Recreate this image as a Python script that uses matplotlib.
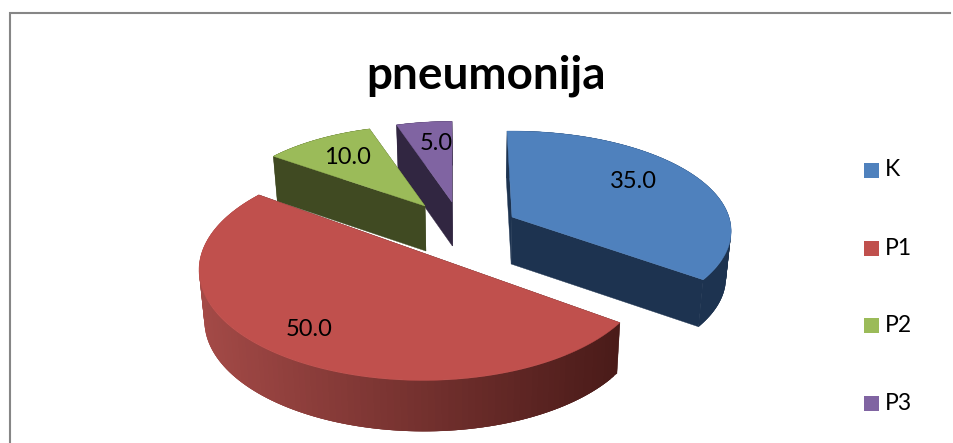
import numpy as np
import matplotlib
matplotlib.use("Agg")
import matplotlib.pyplot as plt
from matplotlib.patches import Rectangle
from matplotlib.colors import to_rgb

# chart data
categories = ["K", "P1", "P2", "P3"]
values = [35.0, 50.0, 10.0, 5.0]
value_labels = ["35.0", "50.0", "10.0", "5.0"]

# styling, pixel layout
top_colors = ["#4f81bd", "#c0504d", "#9bbb59", "#8064a2"]
wall_colors = ["#1d3350", "#4a1b19", "#404a22", "#312641"]
apex_x = [512, 423, 425, 452]
apex_y = [217, 253, 206, 202]
scale_x = [1.0, 1.02, 0.93, 0.93]
scale_y = [1.0, 1.10, 0.93, 0.93]
start_tweak = [1.5, 0, 0, 0]
depth = [47, 51, 45, 44]
label_x = [633, 309, 347, 436]
label_y = [182, 330, 158, 144]
legend_y = [163, 241, 318, 396]

RX, RY, PERSP = 217, 98, 0.14
VANISH_X = 470
START = 90
FONT = "Lato"


def project(theta, i):
    # disc position to screen, a little bigger towards the viewer
    u, v = np.cos(theta), np.sin(theta)
    w = 1 + PERSP * scale_y[i] * v
    return apex_x[i] + RX * scale_x[i] * u / w, apex_y[i] - RY * scale_y[i] * v / w


def lower(x, y, i):
    # bottom edge of the slab
    return VANISH_X + (x - VANISH_X) * 0.98, y + depth[i]


fig = plt.figure(figsize=(9.54, 4.43), dpi=100)
ax = fig.add_axes([0, 0, 1, 1])
ax.set_xlim(0, 954)
ax.set_ylim(443, 0)
ax.axis("off")

# chart frame, only top and left show
ax.plot([950, 10, 10], [13, 13, 443], color="#868686", lw=1.5, solid_joinstyle="miter")

fractions = np.array(values) / sum(values)
ends = np.radians(START - 360 * np.cumsum(fractions))
starts = np.radians(START - 360 * np.concatenate([[0], np.cumsum(fractions)[:-1]]) + np.array(start_tweak))

# back slices first, the big red one last
for i in [3, 2, 0, 1]:
    th = np.linspace(starts[i], ends[i], 120)
    x, y = project(th, i)
    bx, by = lower(x, y, i)
    x0, y0 = apex_x[i], apex_y[i]
    bx0, by0 = lower(x0, y0, i)

    # cut faces
    ax.fill([x0, x[0], bx[0], bx0], [y0, y[0], by[0], by0], color=wall_colors[i], lw=0.3)
    ax.fill([x0, x[-1], bx[-1], bx0], [y0, y[-1], by[-1], by0], color=wall_colors[i], lw=0.3)

    # outer wall as overlapping strips so no seams show, red one is shaded left to right
    for j in range(len(th) - 1):
        k = min(j + 3, len(th) - 1)
        if i == 1:
            t = np.clip((x[j] - 200) / 420, 0, 1)
            col = (1 - t) * np.array(to_rgb("#a44a47")) + t * np.array(to_rgb("#4a1b19"))
        else:
            col = wall_colors[i]
        ax.fill([x[j], x[k], bx[k], bx[j]], [y[j], y[k], by[k], by[j]], color=col, lw=0)

    # top face
    ax.fill(np.r_[x0, x], np.r_[y0, y], color=top_colors[i], lw=0.3)

for i, txt in enumerate(value_labels):
    ax.text(label_x[i], label_y[i], txt, ha="center", va="center", fontsize=17,
            family=FONT, color="black")

ax.text(486, 76, "pneumonija", ha="center", va="center", fontsize=33,
        family=FONT, fontweight="bold", color="black")

for i, name in enumerate(categories):
    ax.add_patch(Rectangle((864, legend_y[i]), 15, 15, color=top_colors[i], lw=0))
    ax.text(885, legend_y[i] + 7, name, ha="left", va="center", fontsize=16.5,
            family=FONT, color="black")

fig.savefig("out.png", dpi=100)
